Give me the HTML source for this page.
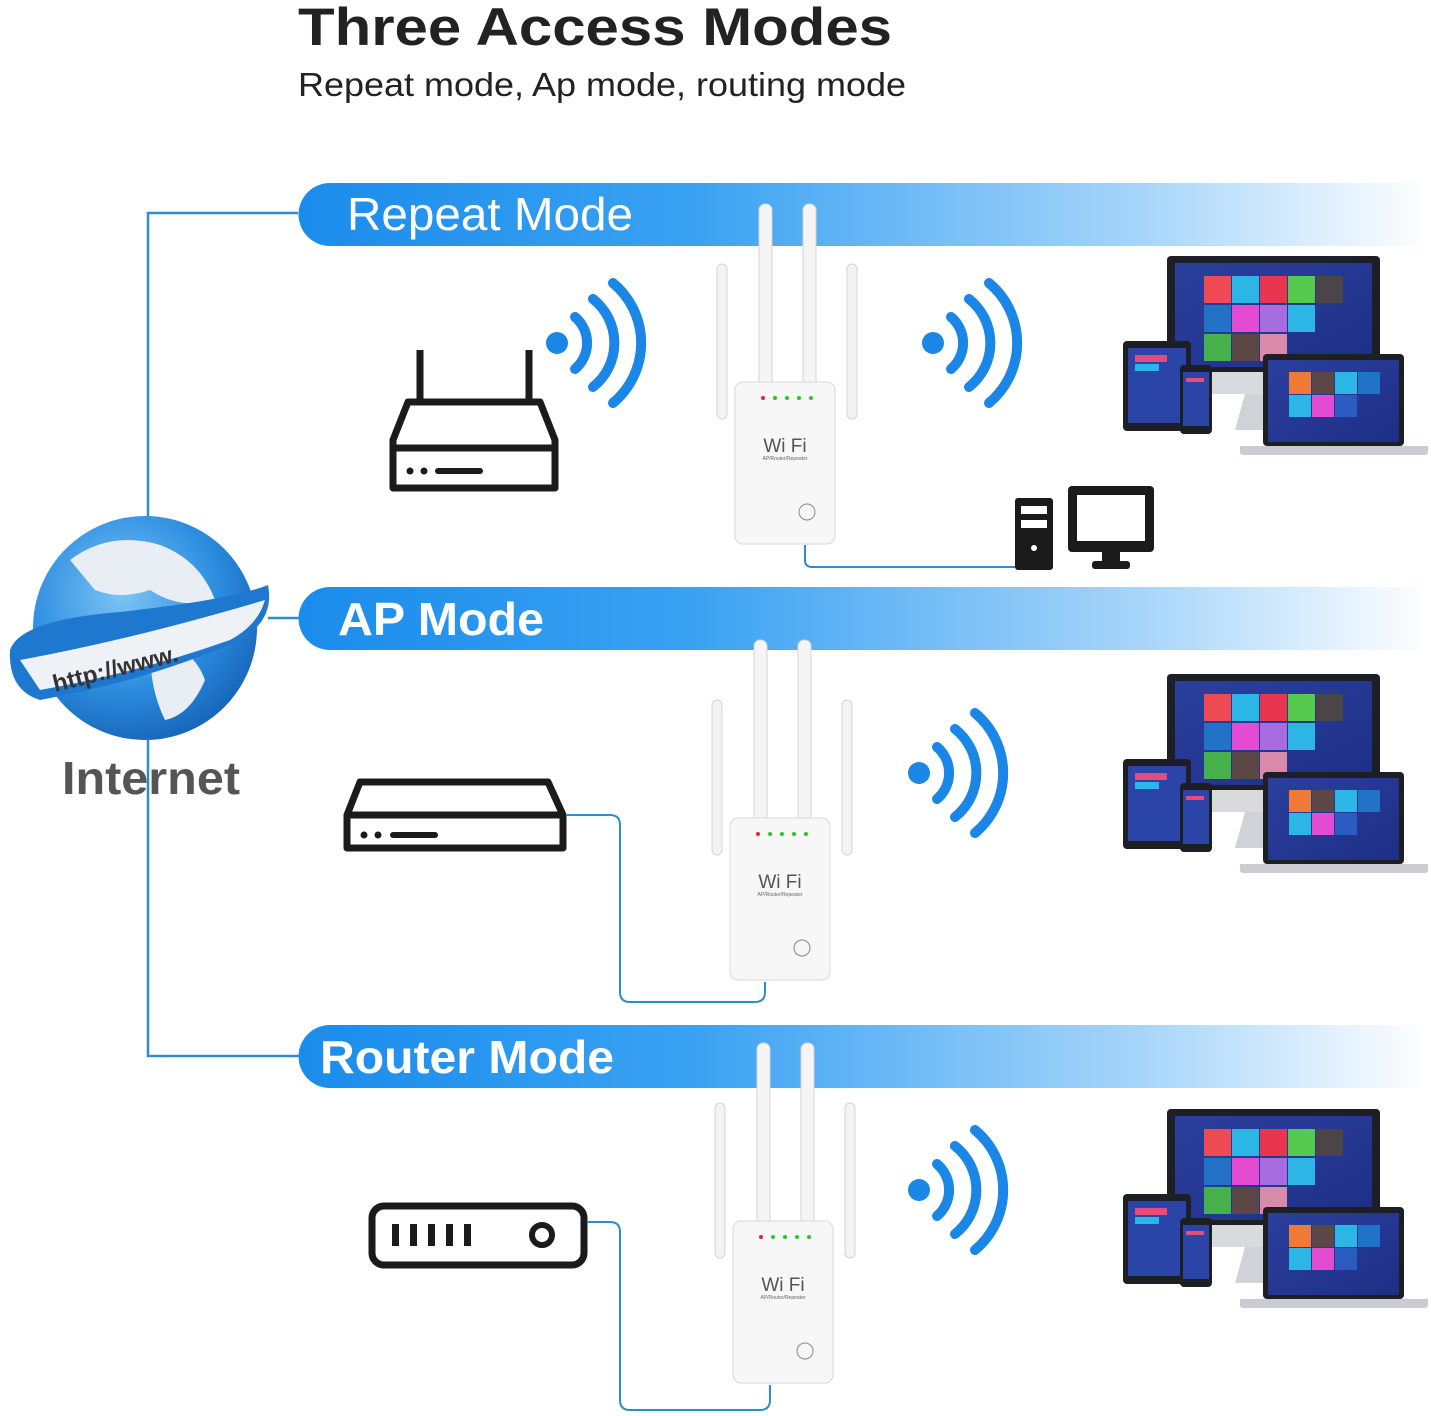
<!DOCTYPE html>
<html><head><meta charset="utf-8"><style>
html,body{margin:0;padding:0;background:#fff}
svg{display:block}
</style></head><body>
<svg width="1431" height="1416" viewBox="0 0 1431 1416" xmlns="http://www.w3.org/2000/svg" font-family="Liberation Sans, sans-serif">
<defs>
<linearGradient id="band" x1="0" x2="1" y1="0" y2="0">
<stop offset="0" stop-color="#1a8cec"/><stop offset="0.35" stop-color="#3aa2f2"/><stop offset="0.75" stop-color="#a9d6fa"/><stop offset="1" stop-color="#ffffff"/>
</linearGradient>
<radialGradient id="glob" cx="0.4" cy="0.35" r="0.7">
<stop offset="0" stop-color="#7cc4f5"/><stop offset="0.6" stop-color="#2d8ee0"/><stop offset="1" stop-color="#1563b8"/>
</radialGradient>
<linearGradient id="scr" x1="0" x2="1" y1="0" y2="1"><stop offset="0" stop-color="#2b3f9e"/><stop offset="1" stop-color="#1d2f86"/></linearGradient>
<g id="devs">
 <rect x="1167" y="256" width="213" height="120" rx="4" fill="#1d1f24"/>
 <rect x="1175" y="263" width="197" height="104" fill="url(#scr)"/>
 <rect x="1167" y="372" width="213" height="22" fill="#d8dadd"/>
 <polygon points="1245,394 1300,394 1310,430 1235,430" fill="#cfd2d6"/>
 <g>
  <rect x="1204" y="276" width="27" height="27" fill="#ee4b52"/><rect x="1232" y="276" width="27" height="27" fill="#2bb6e6"/><rect x="1260" y="276" width="27" height="27" fill="#e8364f"/><rect x="1288" y="276" width="27" height="27" fill="#56c94f"/><rect x="1316" y="276" width="27" height="27" fill="#4b4547"/>
  <rect x="1204" y="305" width="27" height="27" fill="#2273c8"/><rect x="1232" y="305" width="27" height="27" fill="#e44bd3"/><rect x="1260" y="305" width="27" height="27" fill="#a66ce0"/><rect x="1288" y="305" width="27" height="27" fill="#2bb6e6"/>
  <rect x="1204" y="334" width="27" height="27" fill="#46b14a"/><rect x="1232" y="334" width="27" height="27" fill="#5b4746"/><rect x="1260" y="334" width="27" height="27" fill="#d98aa8"/>
 </g>
 <rect x="1123" y="341" width="68" height="90" rx="4" fill="#1d1f24"/>
 <rect x="1128" y="348" width="58" height="75" fill="#2a44a8"/>
 <rect x="1135" y="355" width="32" height="7" fill="#e84a7a"/><rect x="1135" y="364" width="24" height="7" fill="#2bb6e6"/>
 <rect x="1180" y="365" width="32" height="69" rx="4" fill="#1d1f24"/>
 <rect x="1183" y="372" width="26" height="54" fill="#2a44a8"/>
 <rect x="1186" y="378" width="18" height="4" fill="#e84a7a"/>
 <rect x="1263" y="354" width="141" height="92" rx="4" fill="#1d1f24"/>
 <rect x="1268" y="360" width="131" height="82" fill="url(#scr)"/>
 <rect x="1289" y="372" width="22" height="22" fill="#ee7a35"/><rect x="1312" y="372" width="22" height="22" fill="#5b4746"/><rect x="1335" y="372" width="22" height="22" fill="#2bb6e6"/><rect x="1358" y="372" width="22" height="22" fill="#2273c8"/>
 <rect x="1289" y="395" width="22" height="22" fill="#2bb6e6"/><rect x="1312" y="395" width="22" height="22" fill="#e44bd3"/><rect x="1335" y="395" width="22" height="22" fill="#2a5cc0"/>
 <path d="M1240 446 H1428 V452 Q1428 455 1424 455 H1244 Q1240 455 1240 452Z" fill="#c9ccd0"/>
</g>
<g id="wave">
 <circle cx="0" cy="0" r="11" fill="#1a86e6"/>
 <path d="M18,-26 A34,34 0 0 1 18,26" fill="none" stroke="#1a86e6" stroke-width="10" stroke-linecap="round"/>
 <path d="M36,-44 A56,56 0 0 1 36,44" fill="none" stroke="#1a86e6" stroke-width="10" stroke-linecap="round"/>
 <path d="M56,-60 A78,78 0 0 1 56,60" fill="none" stroke="#1a86e6" stroke-width="10" stroke-linecap="round"/>
</g>
<g id="ext">
 <rect x="-18" y="-118" width="10" height="155" rx="5" fill="#f3f3f3" stroke="#d4d4d4"/>
 <rect x="112" y="-118" width="10" height="155" rx="5" fill="#f3f3f3" stroke="#d4d4d4"/>
 <rect x="24" y="-178" width="13" height="185" rx="6" fill="#f5f5f5" stroke="#d4d4d4"/>
 <rect x="68" y="-178" width="13" height="185" rx="6" fill="#f5f5f5" stroke="#d4d4d4"/>
 <rect x="0" y="0" width="100" height="162" rx="8" fill="#f7f7f7" stroke="#d8d8d8"/>
 <circle cx="28" cy="16" r="2" fill="#e23"/><circle cx="40" cy="16" r="2" fill="#2c2"/><circle cx="52" cy="16" r="2" fill="#2c2"/><circle cx="64" cy="16" r="2" fill="#2c2"/><circle cx="76" cy="16" r="2" fill="#2c2"/>
 <text x="50" y="70" font-size="19" text-anchor="middle" fill="#555">Wi Fi</text>
 <text x="50" y="78" font-size="5" text-anchor="middle" fill="#666">AP/Router/Repeater</text>
 <circle cx="72" cy="130" r="8" fill="none" stroke="#888"/>
</g>
</defs>

<text x="298" y="45" font-size="53" font-weight="bold" fill="#222" textLength="594" lengthAdjust="spacingAndGlyphs">Three Access Modes</text>
<text x="298" y="96" font-size="33" fill="#222" textLength="608" lengthAdjust="spacingAndGlyphs">Repeat mode, Ap mode, routing mode</text>

<g fill="none" stroke="#2f8dc8" stroke-width="2.5">
 <path d="M298 213 H148 V520"/>
 <path d="M148 740 V1056 H300"/>
 <path d="M268 618 H300"/>
</g>

<path d="M330 183 H1431 V246 H330 A31.5 31.5 0 0 1 330 183Z" fill="url(#band)"/>
<path d="M330 587 H1431 V650 H330 A31.5 31.5 0 0 1 330 587Z" fill="url(#band)"/>
<path d="M330 1025 H1431 V1088 H330 A31.5 31.5 0 0 1 330 1025Z" fill="url(#band)"/>
<text x="347" y="230" font-size="46" fill="#fff" textLength="286" lengthAdjust="spacingAndGlyphs">Repeat Mode</text>
<text x="338" y="635" font-size="46" font-weight="bold" fill="#fff" textLength="206" lengthAdjust="spacingAndGlyphs">AP Mode</text>
<text x="320" y="1073" font-size="46" font-weight="bold" fill="#fff" textLength="294" lengthAdjust="spacingAndGlyphs">Router Mode</text>

<circle cx="145" cy="628" r="112" fill="url(#glob)"/>
<path d="M70 560 Q110 530 160 545 Q200 560 215 600 Q180 610 150 590 Q120 600 95 590Z" fill="#e8eef4"/>
<path d="M150 650 Q190 640 205 680 Q190 715 165 720 Q150 690 150 650Z" fill="#e8eef4"/>
<path d="M10 650 Q20 620 120 612 Q230 600 268 585 Q275 620 240 640 Q150 680 40 700 Q8 690 10 650Z" fill="#1f78d0"/>
<path d="M20 660 Q130 640 265 600 Q258 625 230 640 Q140 672 40 690Z" fill="#eef2f6"/>
<text x="55" y="692" font-size="24" font-weight="bold" fill="#333" transform="rotate(-14 55 692)">http://www.</text>
<text x="62" y="794" font-size="46" font-weight="bold" fill="#555" textLength="178" lengthAdjust="spacingAndGlyphs">Internet</text>

<g fill="none" stroke="#1b1b1b" stroke-width="7" stroke-linejoin="round">
 <path d="M420 350 V402 M529 350 V402"/>
 <path d="M408 402 H540 L555 440 V488 H393 V440Z"/>
 <path d="M393 448 H555"/>
</g>
<circle cx="410" cy="471" r="3.5" fill="#1b1b1b"/><circle cx="424" cy="471" r="3.5" fill="#1b1b1b"/><rect x="435" y="468" width="48" height="6" rx="3" fill="#1b1b1b"/>
<use href="#wave" x="557" y="343"/>
<use href="#ext" x="735" y="382"/>
<use href="#wave" x="933" y="343"/>
<use href="#devs"/>
<path d="M805 545 V560 Q805 567 812 567 H1016" fill="none" stroke="#2f8dc8" stroke-width="2"/>
<rect x="1015" y="498" width="38" height="72" rx="3" fill="#1b1b1b"/>
<rect x="1021" y="506" width="26" height="8" fill="#fff"/><rect x="1021" y="520" width="26" height="8" fill="#fff"/><circle cx="1034" cy="548" r="3" fill="#fff"/>
<rect x="1068" y="486" width="86" height="66" rx="4" fill="#1b1b1b"/>
<rect x="1077" y="495" width="68" height="46" fill="#fff"/>
<rect x="1102" y="552" width="18" height="10" fill="#1b1b1b"/><rect x="1092" y="561" width="38" height="8" rx="3" fill="#1b1b1b"/>

<g fill="none" stroke="#1b1b1b" stroke-width="7" stroke-linejoin="round">
 <path d="M360 782 H548 L563 815 V848 H347 V815Z"/>
 <path d="M347 815 H563"/>
</g>
<circle cx="364" cy="835" r="3.5" fill="#1b1b1b"/><circle cx="378" cy="835" r="3.5" fill="#1b1b1b"/><rect x="390" y="832" width="48" height="6" rx="3" fill="#1b1b1b"/>
<path d="M566 815 H610 Q620 815 620 825 V992 Q620 1002 630 1002 H755 Q765 1002 765 992 V982" fill="none" stroke="#2f8dc8" stroke-width="2"/>
<use href="#ext" x="730" y="818"/>
<use href="#wave" x="919" y="773"/>
<use href="#devs" y="418"/>

<rect x="372" y="1206" width="212" height="59" rx="12" fill="none" stroke="#1b1b1b" stroke-width="7"/>
<g fill="#1b1b1b"><rect x="392" y="1224" width="7" height="22"/><rect x="410" y="1224" width="7" height="22"/><rect x="428" y="1224" width="7" height="22"/><rect x="446" y="1224" width="7" height="22"/><rect x="464" y="1224" width="7" height="22"/></g>
<circle cx="542" cy="1235" r="10" fill="none" stroke="#1b1b1b" stroke-width="6"/>
<path d="M587 1222 H610 Q620 1222 620 1232 V1400 Q620 1410 630 1410 H760 Q770 1410 770 1400 V1385" fill="none" stroke="#2f8dc8" stroke-width="2"/>
<use href="#ext" x="733" y="1221"/>
<use href="#wave" x="919" y="1190"/>
<use href="#devs" y="853"/>
</svg>
</body></html>
